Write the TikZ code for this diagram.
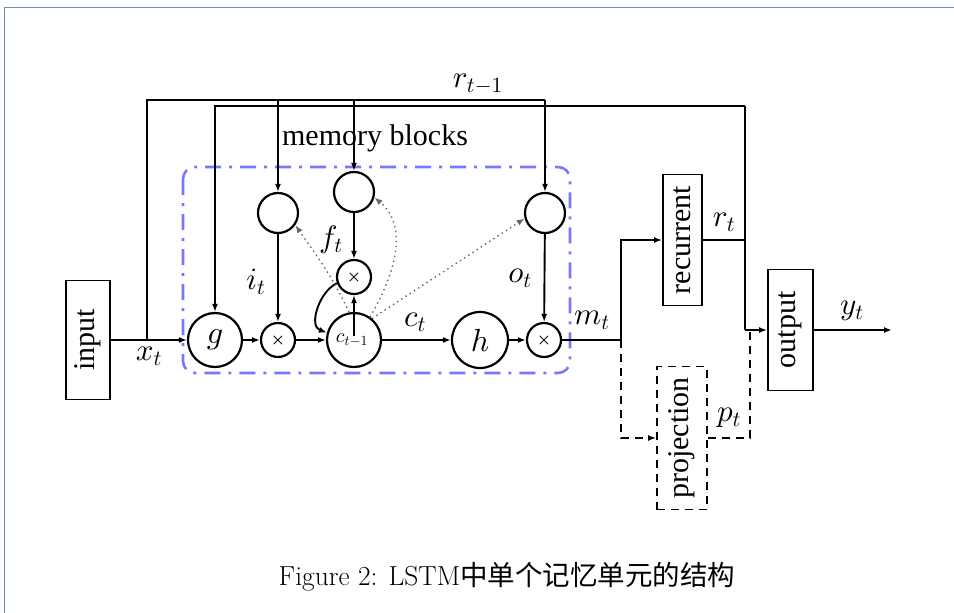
\documentclass[tikz,border=0pt]{standalone}
\usepackage{graphicx}
\usepackage{amsmath}
\usepackage{fontspec}
\DeclareFontShape{OML}{cmm}{m}{it}{<->cmmi10}{}
\DeclareFontShape{OMS}{cmsy}{m}{n}{<->cmsy10}{}
\DeclareFontShape{OMS}{cmsy}{b}{n}{<->cmbsy10}{}
\DeclareFontShape{OT1}{cmr}{m}{n}{<->cmr10}{}
\newfontfamily\tms{Liberation Serif}
\newfontfamily\cjk{Noto Sans CJK SC}
\usetikzlibrary{arrows.meta}
\definecolor{framec}{RGB}{110,140,180}
\definecolor{bluedd}{RGB}{120,120,255}
\begin{document}
\begin{tikzpicture}[x=1pt,y=-1pt,
  ln/.style={line width=1.9pt},
  arr/.style={ln,-{Latex[length=8pt,width=6pt]}},
  dt/.style={line width=1.4pt,gray!80!black,dash pattern=on 1.4pt off 3.6pt,-{Latex[length=8pt,width=6pt]}},
  dsh/.style={ln,dash pattern=on 8pt off 6pt},
  bigc/.style={circle,draw,line width=2.2pt,minimum size=54pt,inner sep=0pt},
  gatec/.style={circle,draw,line width=2.2pt,minimum size=40pt,inner sep=0pt},
  mulc/.style={circle,draw,line width=2.2pt,minimum size=34pt,inner sep=0pt,font=\fontsize{16}{18}\selectfont},
  boxn/.style={draw,line width=1.9pt,inner sep=0pt,font=\tms\fontsize{30}{34}\selectfont},
  lab/.style={font=\fontsize{31}{35}\selectfont,inner sep=0pt},
]
\useasboundingbox (0,0) rectangle (954,613);
% frame
\draw[framec,line width=1pt] (4,613) -- (4,7) -- (954,7);

% memory block
\draw[bluedd,line width=2.6pt,dash pattern=on 16pt off 8pt on 3pt off 8pt,rounded corners=12pt]
  (183,167) rectangle (570,373);
\node[font=\tms\fontsize{30}{34}\selectfont,inner sep=0pt] (mb) at (375,138) {memory blocks};

% boxes
\node[boxn,minimum width=44pt,minimum height=119pt] (inp) at (88,340) {\rotatebox{90}{input}};
\node[boxn,minimum width=39pt,minimum height=131pt] (rec) at (682.5,240) {\rotatebox{90}{recurrent}};
\node[boxn,minimum width=45pt,minimum height=121pt] (out) at (790.5,330) {\rotatebox{90}{output}};
\node[boxn,dash pattern=on 8pt off 6pt,minimum width=50pt,minimum height=143pt] (proj) at (682,438) {\rotatebox{90}{projection}};

% circles
\node[bigc] (g) at (215,340) {\fontsize{32}{36}\selectfont$g$};
\node[mulc] (im) at (278,340) {$\boldsymbol{\times}$};
\node[bigc] (c) at (354,340) {};
\node[bigc,minimum size=56pt] (h) at (480,340) {\fontsize{32}{36}\selectfont$h$};
\node[mulc] (om) at (544,340) {$\boldsymbol{\times}$};
\node[gatec] (ig) at (278,213) {};
\node[gatec] (fg) at (354,192) {};
\node[mulc] (fm) at (354,277) {$\boldsymbol{\times}$};
\node[gatec] (og) at (545,213) {};
\node[inner sep=0pt,font=\fontsize{20}{22}\selectfont] (cl) at (352,340) {$c_{t-1}$};

% coordinates
\coordinate (xj) at (147,340);
\coordinate (tl) at (147,100);
\coordinate (tr) at (545,100);
\coordinate (rtop) at (745,106);
\coordinate (rj) at (745,240);
\coordinate (oj) at (745,330);
\coordinate (mj) at (621,340);
\coordinate (md) at (588,340);
\coordinate (pj) at (750,332);
\coordinate (yend) at (892,330);
\coordinate (cs) at (354,336);

% input and x_t lines
\draw[arr] (inp) -- (g);
\draw[line width=2.4pt] (inp.east) -- (xj) -- (tl) -- (tr);
\draw[arr] (ig |- tl) -- (ig);
\draw[arr] (fg |- tl) -- (fg);
\draw[arr] (tr) -- (og);

% r_{t-1} line
\draw[arr] (rtop) -| (g);
\draw[ln] (rtop) -- (rj) -- (oj);
\draw[line width=2.8pt] (rec) -- (rj);
\draw[arr] (oj) -- (out);
\draw[arr] (out) -- (yend);

% cell internals
\draw[arr] (g) -- (im);
\draw[arr] (im) -- (c);
\draw[arr] (c) -- (h);
\draw[arr] (h) -- (om);
\draw[arr] (ig) -- (im);
\draw[arr] (fg) -- (fm);
\draw[arr] (og) -- (om);
\draw[arr] (cs) -- (fm);
\draw[arr] (fm.200) to[out=205,in=160] (c.165);

% peepholes
\draw[dt] (c.100) to[out=115,in=-55] (ig.-35);
\draw[dt] (c.55) to[out=60,in=-40] (fg.-15);
\draw[dt] (c.50) -- (og.195);

% m_t
\draw[ln] (om) -- (mj);
\draw[dsh] (md) -- (mj);
\draw[arr] (mj) |- (rec);
\draw[dsh,-{Latex[length=8pt,width=6pt]}] (mj) |- (proj);
\draw[dsh] (proj) -| (pj);

% labels
\node[lab] (lxt) at (149,356) {$x_t$};
\node[lab] (lrt1) at (478,84) {$r_{t-1}$};
\node[lab] (lit) at (256,282) {$i_t$};
\node[lab] (lft) at (331,240) {$f_t$};
\node[lab] (lot) at (520,278) {$o_t$};
\node[lab] (lct) at (415,322) {$c_t$};
\node[lab] (lmt) at (592,320) {$m_t$};
\node[lab] (lrt) at (724,222) {$r_t$};
\node[lab] (lpt) at (729,418) {$p_t$};
\node[lab] (lyt) at (852,311) {$y_t$};

% caption
\node[inner sep=0pt,font=\fontsize{27.5}{31}\selectfont] (cap) at (507,577) {Figure 2: LSTM{\cjk 中单个记忆单元的结构}};
\end{tikzpicture}
\end{document}
